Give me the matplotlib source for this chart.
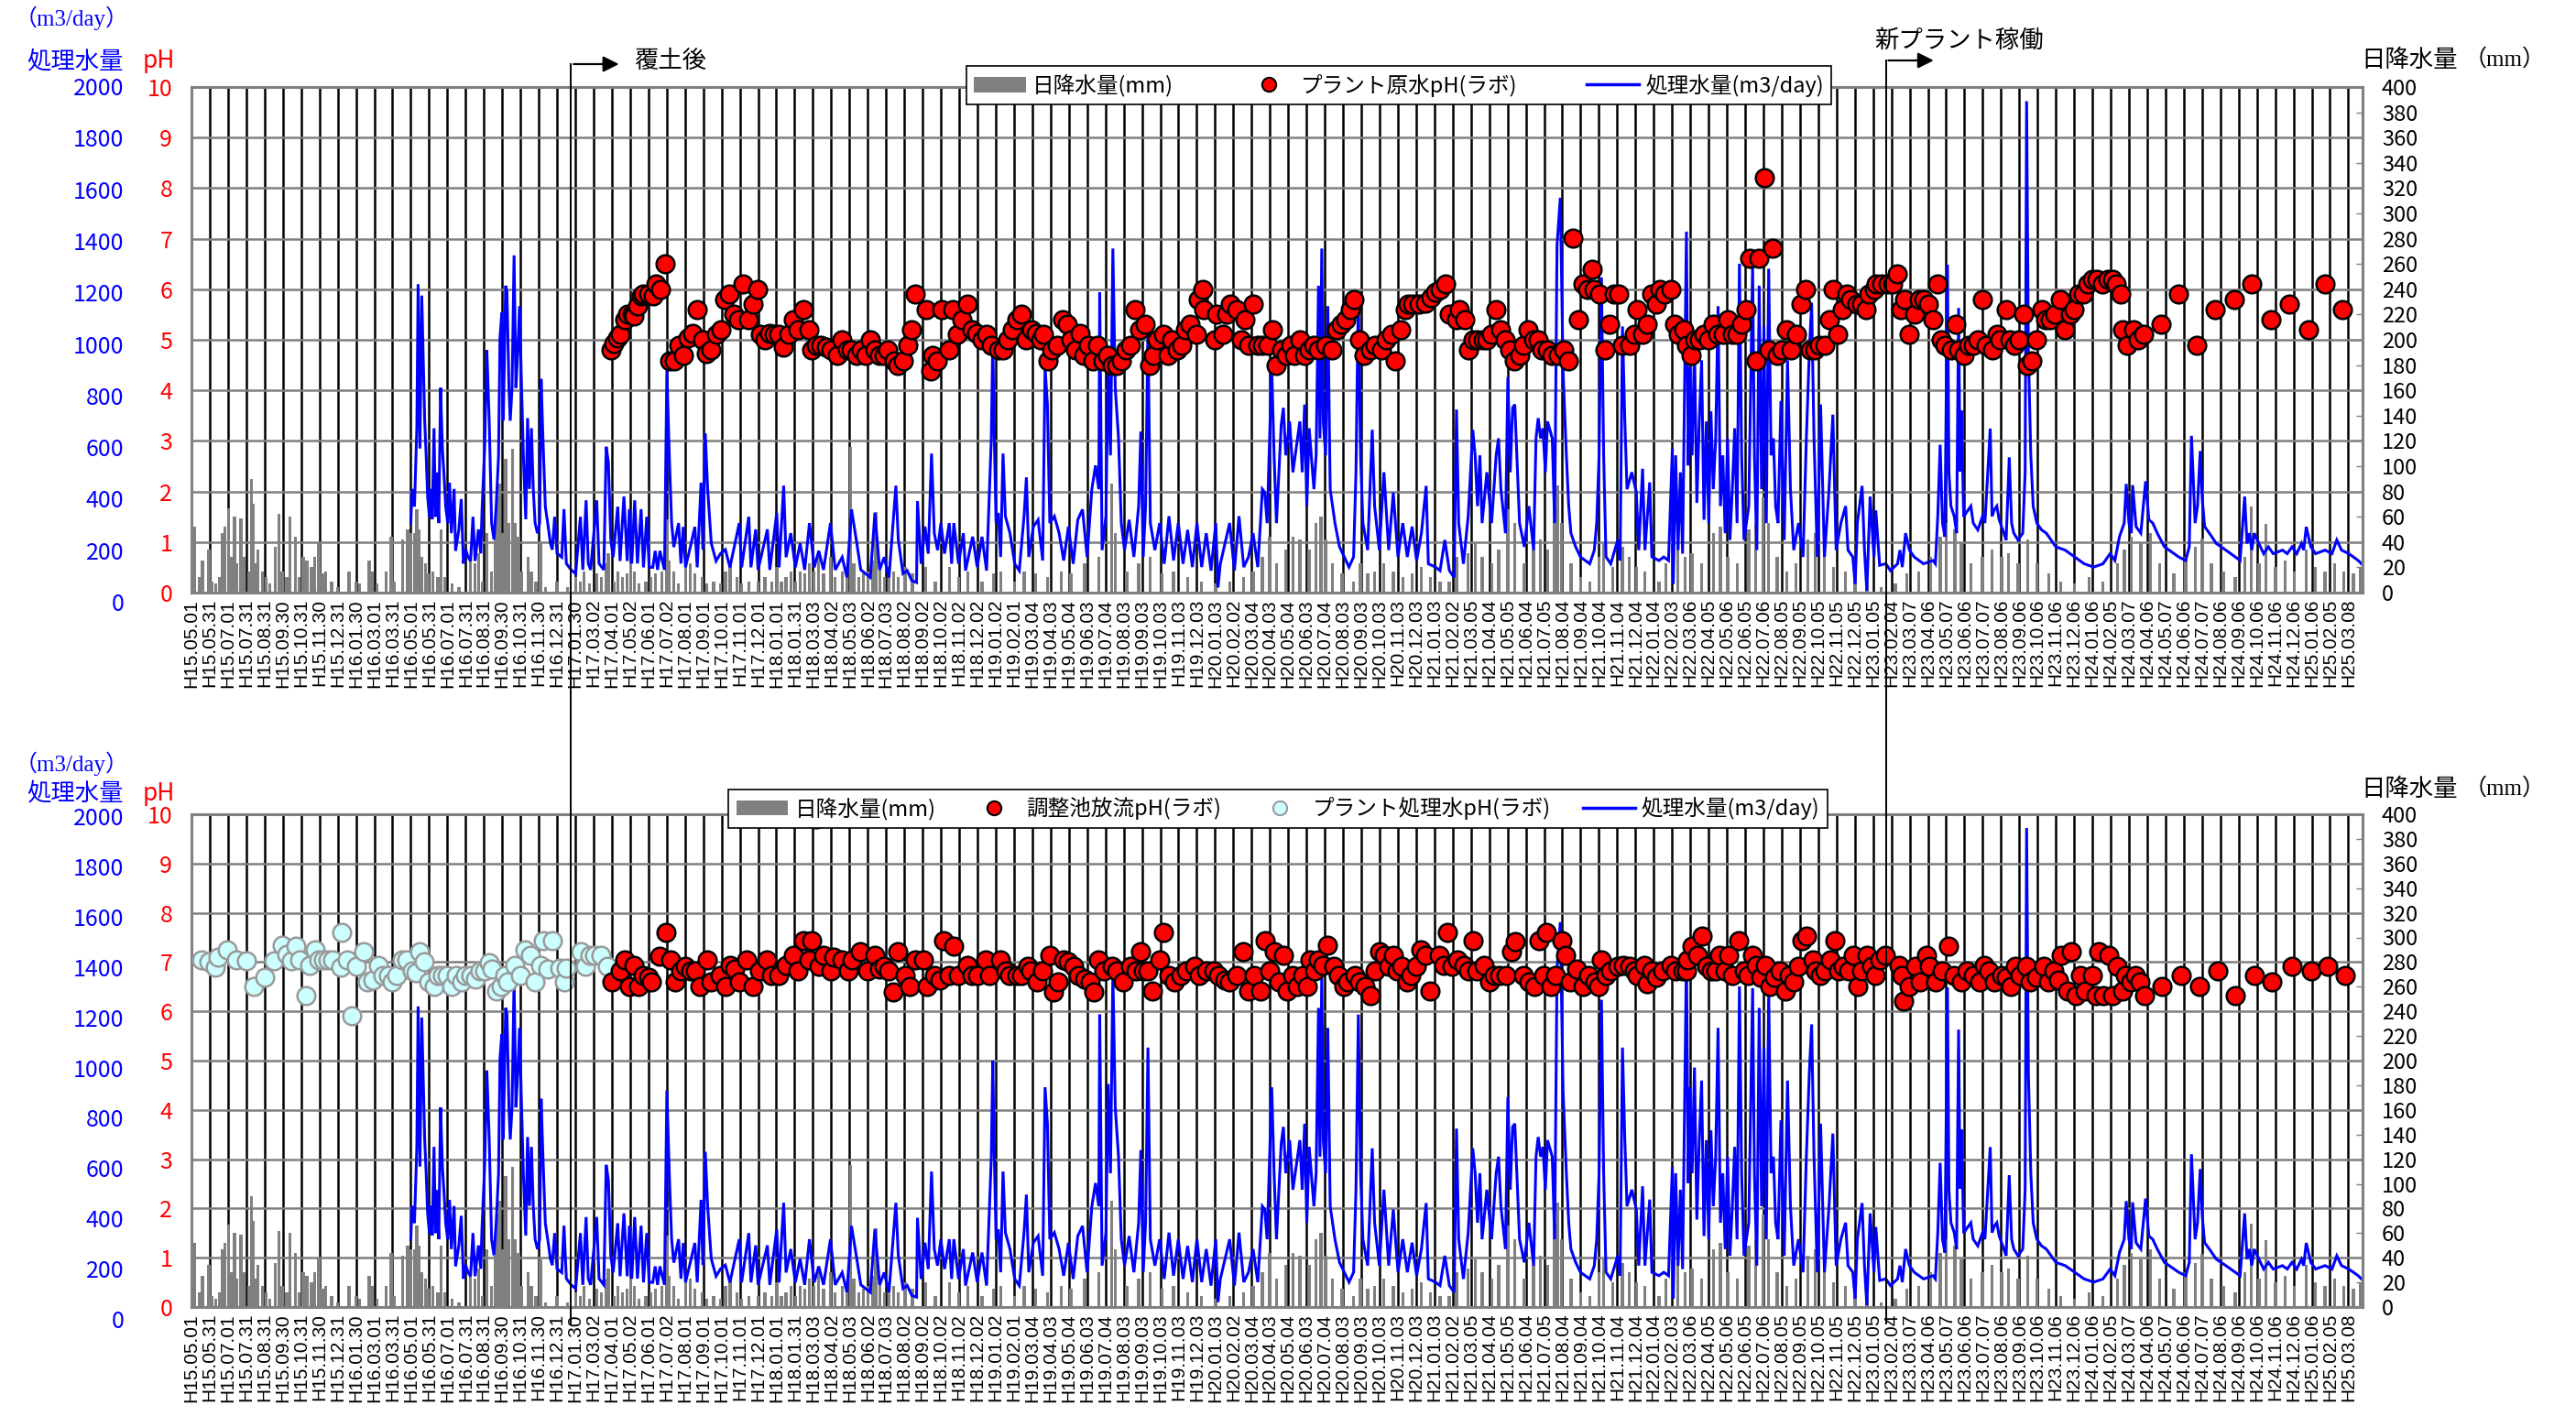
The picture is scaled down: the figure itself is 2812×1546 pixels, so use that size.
import datetime as dt

import matplotlib
matplotlib.use("Agg")
import matplotlib.pyplot as plt
from matplotlib.lines import Line2D
from matplotlib.patches import Patch, FancyArrowPatch

plt.rcParams["font.family"] = ["Noto Sans CJK JP", "DejaVu Sans"]

W, H, DPI = 2812, 1546, 100

# x unit = tick index; one date tick every 30.5 days from H15.05.01
START = dt.date(2003, 5, 1)
N_TICKS = 119
X_END = 118.78


def heisei(k):
    d = START + dt.timedelta(days=int(k * 30.5))
    return f"H{d.year - 1988}.{d.month:02d}.{d.day:02d}"


tick_labels = [heisei(k) for k in range(N_TICKS)]

# events (tick index)
COVER_X = 20.77      # 覆土後
PLANT_X = 92.7       # 新プラント稼働

# daily rain (mm)
rain = [
    (0.18, 52), (0.43, 12), (0.61, 25), (0.95, 34), (1.13, 9), (1.33, 7), (1.53, 12), (1.71, 47),
    (1.84, 52), (2.02, 67), (2.17, 28), (2.35, 60), (2.48, 23), (2.71, 59), (2.86, 28), (3.12, 17),
    (3.27, 90), (3.38, 70), (3.5, 23), (3.63, 34), (3.89, 17), (4.09, 12), (4.27, 7), (4.6, 36),
    (4.78, 62), (4.96, 17), (5.22, 12), (5.4, 60), (5.68, 44), (5.88, 12), (6.11, 28), (6.32, 25),
    (6.57, 20), (6.75, 28), (6.96, 40), (7.16, 15), (7.34, 17), (7.67, 9), (7.98, 4), (8.62, 17),
    (9.0, 9), (9.21, 7), (9.72, 25), (9.9, 17), (10.15, 7), (10.66, 17), (10.92, 44), (11.1, 9),
    (11.56, 42), (11.82, 50), (12.0, 47), (12.2, 47), (12.33, 66), (12.46, 50), (12.58, 28),
    (12.79, 23), (12.97, 15), (13.22, 17), (13.48, 12), (13.66, 50), (13.86, 12), (14.25, 7),
    (14.63, 4), (15.27, 28), (15.52, 23), (15.7, 31), (15.91, 9), (16.16, 47), (16.42, 17),
    (16.62, 42), (16.73, 76), (16.85, 86), (17.0, 47), (17.19, 106), (17.37, 55), (17.57, 114),
    (17.7, 55), (17.9, 44), (18.08, 17), (18.41, 28), (18.59, 17), (18.85, 9), (19.1, 39),
    (19.36, 4), (20.0, 9), (20.56, 4), (21.02, 12), (21.28, 9), (21.48, 17), (21.79, 7),
    (22.17, 15), (22.43, 12), (22.69, 23), (22.81, 31), (23.12, 9), (23.32, 17), (23.58, 12),
    (23.84, 15), (24.04, 23), (24.22, 17), (24.48, 7), (24.86, 9), (25.12, 12), (25.37, 15),
    (25.75, 17), (26.01, 58), (26.14, 25), (26.39, 17), (26.65, 7), (27.03, 20), (27.29, 23),
    (27.54, 15), (27.93, 12), (28.18, 7), (28.57, 9), (28.95, 7), (29.21, 17), (29.46, 23),
    (29.85, 12), (30.1, 7), (30.49, 9), (31.0, 9), (31.38, 12), (31.76, 9), (32.02, 20),
    (32.28, 9), (32.53, 12), (32.79, 17), (33.04, 9), (33.3, 17), (33.55, 15), (33.81, 23),
    (34.07, 17), (34.32, 28), (34.58, 15), (34.96, 28), (35.22, 12), (35.6, 17), (35.86, 20),
    (36.06, 115), (36.24, 23), (36.5, 12), (36.75, 15), (37.01, 17), (37.26, 25), (37.44, 64),
    (37.65, 23), (37.9, 12), (38.16, 20), (38.41, 17), (38.67, 12), (39.05, 20), (39.44, 15),
    (40.18, 20), (40.69, 9), (41.46, 20), (41.97, 12), (42.48, 17), (43.25, 9), (43.89, 15),
    (44.27, 17), (45.04, 9), (45.55, 17), (46.19, 15), (46.83, 12), (47.6, 17), (48.11, 15),
    (48.87, 23), (49.64, 28), (50.33, 86), (50.54, 47), (51.18, 17), (51.82, 23), (52.46, 28),
    (53.1, 15), (53.73, 17), (54.5, 12), (55.27, 9), (56.04, 7), (56.8, 9), (57.57, 12),
    (58.08, 17), (58.59, 28), (58.98, 44), (59.36, 23), (59.87, 34), (60.26, 44), (60.64, 42),
    (61.15, 34), (61.53, 55), (61.79, 60), (62.05, 42), (62.43, 23), (62.94, 15), (63.58, 9),
    (63.96, 23), (64.35, 15), (64.73, 17), (65.24, 23), (65.75, 17), (66.27, 12), (66.78, 15),
    (67.29, 20), (67.8, 12), (68.31, 9), (68.82, 9), (69.21, 28), (69.85, 31), (70.23, 39),
    (70.61, 28), (71.13, 23), (71.51, 34), (72.02, 66), (72.4, 55), (72.92, 23), (73.43, 34),
    (73.81, 42), (74.19, 34), (74.58, 68), (74.76, 85), (74.96, 55), (75.47, 23), (75.99, 12),
    (76.5, 9), (77.01, 28), (77.26, 39), (77.77, 20), (78.29, 36), (78.67, 28), (79.05, 20),
    (79.52, 17), (80.29, 9), (80.68, 23), (81.33, 34), (81.71, 28), (82.1, 31), (82.62, 23),
    (83.26, 47), (83.65, 52), (84.04, 28), (84.56, 23), (85.2, 50), (85.59, 55), (85.98, 75),
    (86.29, 55), (86.75, 28), (87.27, 17), (87.79, 23), (88.43, 42), (88.82, 47), (89.34, 28),
    (89.85, 20), (90.5, 17), (91.02, 12), (91.66, 9), (92.44, 4), (93.21, 7), (93.86, 15),
    (94.5, 17), (95.15, 28), (95.67, 44), (96.0, 55), (96.47, 50), (96.83, 39), (97.35, 23),
    (97.99, 28), (98.51, 34), (99.03, 28), (99.41, 31), (99.93, 23), (100.45, 42), (100.96, 23),
    (101.61, 15), (102.26, 9), (103.03, 7), (103.81, 12), (104.58, 9), (105.36, 23), (105.74, 34),
    (106.13, 44), (106.65, 39), (107.17, 47), (107.68, 23), (108.46, 15), (109.1, 28),
    (109.62, 36), (110.01, 43), (110.52, 23), (111.17, 17), (111.82, 12), (112.33, 28),
    (112.7, 68), (113.11, 23), (113.5, 54), (114.01, 20), (114.53, 25), (115.05, 17),
    (115.69, 34), (116.21, 20), (116.73, 17), (117.24, 23), (117.76, 17), (118.28, 15),
    (118.66, 20),
]

# treated water volume (m3/day), peaks and troughs
flow = [
    (12.0, 275), (12.07, 410), (12.2, 340), (12.33, 650), (12.4, 1220), (12.5, 570), (12.6, 1175),
    (12.69, 890), (12.76, 680), (12.84, 545), (12.92, 380), (13.02, 300), (13.09, 410), (13.17, 290),
    (13.27, 650), (13.35, 300), (13.43, 475), (13.53, 275), (13.63, 810), (13.73, 570), (13.81, 475),
    (13.91, 340), (14.02, 275), (14.12, 435), (14.22, 235), (14.37, 410), (14.45, 165), (14.63, 250),
    (14.76, 370), (14.88, 115), (15.0, 170), (15.14, 140), (15.27, 125), (15.4, 300), (15.52, 125),
    (15.7, 250), (15.83, 155), (15.9, 330), (16.04, 570), (16.16, 960), (16.29, 680), (16.42, 275),
    (16.55, 210), (16.67, 340), (16.8, 540), (16.88, 1010), (16.98, 1107), (17.06, 680),
    (17.19, 1214), (17.26, 1190), (17.37, 810), (17.44, 680), (17.54, 810), (17.65, 1334),
    (17.75, 810), (17.85, 945), (17.95, 1133), (18.06, 810), (18.16, 540), (18.29, 290),
    (18.39, 690), (18.49, 410), (18.6, 650), (18.7, 410), (18.8, 275), (18.93, 235), (19.05, 275),
    (19.13, 845), (19.23, 610), (19.36, 340), (19.49, 275), (19.64, 195), (19.74, 170), (19.87, 300),
    (20.0, 155), (20.26, 140), (20.38, 330), (20.51, 115), (20.77, 90), (21.02, 75), (21.28, 300),
    (21.41, 90), (21.59, 365), (21.71, 115), (21.84, 90), (22.17, 365), (22.3, 115), (22.56, 90),
    (22.69, 577), (22.81, 515), (22.94, 210), (23.07, 140), (23.32, 340), (23.45, 125), (23.66, 380),
    (23.84, 125), (23.96, 330), (24.09, 115), (24.25, 365), (24.4, 115), (24.6, 330), (24.73, 100),
    (24.91, 300), (25.04, 100), (25.24, 100), (25.37, 165), (25.5, 90), (25.63, 165), (25.88, 90),
    (26.01, 879), (26.14, 545), (26.27, 275), (26.39, 180), (26.65, 275), (26.78, 115), (26.91, 260),
    (27.03, 100), (27.29, 180), (27.54, 260), (27.67, 100), (27.88, 435), (27.98, 170), (28.11, 630),
    (28.24, 410), (28.44, 195), (28.7, 125), (28.95, 155), (29.21, 170), (29.46, 100), (29.97, 275),
    (30.1, 100), (30.49, 300), (30.61, 100), (30.87, 250), (31.0, 90), (31.51, 250), (31.64, 90),
    (32.02, 315), (32.15, 100), (32.4, 423), (32.53, 140), (32.79, 235), (33.04, 100), (33.3, 195),
    (33.55, 90), (33.81, 275), (34.07, 100), (34.32, 165), (34.58, 90), (34.96, 275), (35.22, 90),
    (35.6, 140), (35.86, 60), (36.11, 329), (36.37, 210), (36.62, 90), (37.14, 60), (37.39, 315),
    (37.65, 90), (37.9, 140), (38.16, 60), (38.54, 423), (38.67, 210), (38.93, 75),
    (39.16, 87), (39.41, 47), (39.67, 40), (39.72, 362), (39.92, 114), (40.13, 261), (40.31, 154),
    (40.49, 550), (40.64, 235), (40.82, 168), (41.0, 275), (41.2, 154), (41.46, 275), (41.59, 114),
    (41.71, 275), (41.97, 114), (42.23, 235), (42.35, 87), (42.74, 221), (42.99, 101), (43.25, 221),
    (43.5, 87), (43.76, 610), (43.84, 1000), (43.91, 664), (44.02, 275), (44.14, 315), (44.27, 141),
    (44.4, 550), (44.53, 302), (44.78, 235), (45.04, 114), (45.29, 87), (45.55, 302), (45.68, 456),
    (45.81, 141), (46.06, 261), (46.32, 288), (46.57, 127), (46.7, 892), (46.83, 744), (46.96, 275),
    (47.21, 302), (47.47, 235), (47.72, 127), (47.98, 261), (48.24, 114), (48.49, 288), (48.75, 329),
    (49.0, 141), (49.26, 409), (49.46, 503), (49.64, 409), (49.69, 1187), (49.82, 168), (50.03, 302),
    (50.15, 905), (50.28, 543), (50.41, 1361), (50.54, 811), (50.72, 610), (50.87, 275), (51.05, 168),
    (51.3, 288), (51.56, 141), (51.82, 342), (51.94, 637), (52.07, 141), (52.2, 342), (52.33, 1053),
    (52.46, 275), (52.71, 168), (52.97, 275), (53.22, 114), (53.48, 302), (53.73, 127), (53.99, 275),
    (54.25, 114), (54.5, 248), (54.76, 101), (55.01, 275), (55.27, 101), (55.52, 235), (55.78, 87),
    (56.04, 275), (56.16, 20), (56.29, 114), (56.8, 275), (57.06, 87), (57.31, 302), (57.57, 101),
    (57.83, 141), (58.08, 235), (58.34, 101), (58.59, 409), (58.72, 396), (58.85, 275), (59.1, 892),
    (59.23, 543), (59.36, 275), (59.62, 664), (59.74, 731), (59.87, 543), (60.08, 677), (60.26, 476),
    (60.51, 610), (60.64, 677), (60.77, 476), (60.9, 744), (61.02, 342), (61.15, 650), (61.41, 409),
    (61.53, 543), (61.66, 1214), (61.74, 610), (61.84, 1361), (61.92, 677), (62.05, 543),
    (62.17, 1133), (62.3, 409), (62.56, 275), (62.81, 181), (63.07, 141), (63.33, 101), (63.58, 141),
    (63.71, 476), (63.84, 1187), (63.96, 543), (64.09, 275), (64.35, 168), (64.6, 644), (64.73, 342),
    (64.99, 168), (65.24, 476), (65.5, 168), (65.75, 396), (66.01, 141), (66.27, 275), (66.52, 141),
    (66.78, 261), (67.03, 127), (67.29, 235), (67.55, 422), (67.67, 114), (68.06, 101), (68.31, 87),
    (68.57, 208), (68.82, 87), (69.08, 60), (69.21, 724), (69.33, 275), (69.59, 114), (69.85, 302),
    (70.1, 644), (70.23, 543), (70.36, 342), (70.49, 543), (70.61, 275), (70.87, 476), (71.13, 275),
    (71.38, 543), (71.51, 610), (71.64, 409), (71.89, 235), (72.02, 852), (72.15, 476), (72.28, 731),
    (72.4, 744), (72.66, 275), (72.92, 181), (73.17, 342), (73.43, 168), (73.56, 610), (73.68, 690),
    (73.81, 610), (73.94, 650), (74.07, 476), (74.19, 677), (74.45, 610), (74.58, 275),
    (74.71, 1375), (74.89, 1562), (75.04, 878), (75.22, 543), (75.35, 342), (75.47, 235),
    (75.73, 181), (75.99, 141), (76.5, 114), (76.75, 168), (76.88, 275), (77.01, 543),
    (77.14, 1247), (77.26, 543), (77.39, 141), (77.65, 114), (78.03, 208), (78.16, 127),
    (78.29, 1053), (78.42, 677), (78.54, 409), (78.8, 476), (79.05, 396),
    (79.18, 168), (79.39, 490), (79.52, 168), (79.78, 436), (79.9, 141), (80.29, 127), (80.55, 141),
    (80.81, 127), (81.02, 570), (81.07, 34), (81.2, 543), (81.33, 168), (81.46, 476), (81.58, 154),
    (81.79, 1428), (81.89, 503), (81.97, 892), (82.1, 543), (82.23, 972), (82.36, 355), (82.49, 677),
    (82.62, 919), (82.75, 288), (82.88, 677), (83.01, 275), (83.13, 717), (83.26, 409), (83.39, 610),
    (83.52, 1133), (83.65, 342), (83.78, 543), (83.91, 235), (84.04, 610), (84.17, 208), (84.3, 409),
    (84.43, 650), (84.56, 275), (84.69, 1301), (84.81, 543), (84.94, 208), (85.2, 342),
    (85.41, 1294), (85.51, 543), (85.64, 168), (85.77, 1214), (85.9, 409), (86.03, 1053),
    (86.16, 275), (86.29, 1281), (86.42, 543), (86.55, 610), (86.67, 342), (86.8, 275), (86.96, 758),
    (87.14, 208), (87.32, 919), (87.48, 409), (87.66, 168), (87.92, 275), (88.17, 141), (88.35, 610),
    (88.51, 945), (88.64, 1147), (88.77, 610), (88.95, 141), (89.13, 744), (89.34, 141), (89.59, 409),
    (89.8, 704), (89.98, 168), (90.24, 275), (90.5, 342), (90.63, 168), (90.89, 141), (91.02, 34),
    (91.14, 275), (91.4, 422), (91.53, 168), (91.66, 7), (91.84, 380), (92.05, 141), (92.15, 325),
    (92.36, 108), (92.7, 114), (92.95, 87), (93.34, 114), (93.47, 168), (93.6, 101), (93.78, 235),
    (93.99, 168), (94.25, 141), (94.76, 114), (95.28, 127), (95.41, 114), (95.54, 302), (95.67, 585),
    (95.8, 275), (95.93, 221), (96.07, 1297), (96.15, 476), (96.26, 342), (96.44, 302), (96.57, 235),
    (96.68, 1126), (96.76, 480), (96.83, 720), (96.96, 300), (97.09, 315), (97.35, 342), (97.48, 275),
    (97.73, 248), (97.99, 302), (98.12, 275), (98.41, 649), (98.51, 302), (98.64, 329), (98.77, 342),
    (98.9, 288), (99.16, 235), (99.28, 208), (99.45, 535), (99.58, 275), (99.7, 235), (99.93, 208),
    (100.19, 235), (100.32, 476), (100.4, 1944), (100.5, 945), (100.63, 543), (100.76, 342),
    (100.96, 275), (101.22, 248), (101.48, 235), (101.74, 208), (102.0, 181), (102.51, 168),
    (103.03, 141), (103.55, 114), (104.07, 101), (104.58, 114), (104.97, 154), (105.23, 127),
    (105.48, 221), (105.74, 275), (105.85, 430), (106.0, 275), (106.13, 235), (106.2, 425),
    (106.39, 261), (106.65, 235), (106.91, 440), (107.09, 288), (107.3, 275), (107.55, 235),
    (107.94, 181), (108.2, 168), (108.72, 141), (109.1, 127), (109.3, 181), (109.42, 620),
    (109.62, 275), (109.75, 342), (109.9, 560), (110.01, 369), (110.14, 261), (110.4, 235),
    (110.78, 194), (111.3, 168), (111.82, 141), (112.08, 127), (112.33, 380), (112.46, 194),
    (112.59, 235), (112.72, 168), (112.85, 235), (113.11, 194), (113.37, 154), (113.63, 181),
    (113.89, 154), (114.4, 168), (114.66, 154), (114.92, 181), (115.18, 154), (115.44, 194),
    (115.56, 168), (115.7, 260), (115.95, 181), (116.21, 154), (116.73, 168), (117.11, 154),
    (117.37, 208), (117.63, 168), (118.02, 154), (118.28, 141), (118.54, 127), (118.72, 114),
]

# プラント原水pH(ラボ)
ph_raw = [
    (22.94, 4.8), (23.12, 4.93), (23.32, 5.03), (23.45, 5.1), (23.71, 5.4), (23.84, 5.5), (24.09, 5.5),
    (24.22, 5.47), (24.4, 5.67), (24.6, 5.87), (24.73, 5.9), (24.99, 5.9), (25.24, 5.87), (25.42, 6.1),
    (25.68, 6.0), (25.93, 6.51), (26.14, 4.59), (26.39, 4.59), (26.65, 4.9), (26.9, 4.69), (27.16, 5.03),
    (27.42, 5.13), (27.67, 5.6), (27.98, 5.0), (28.18, 4.73), (28.44, 4.8), (28.7, 5.1), (28.95, 5.2),
    (29.16, 5.8), (29.41, 5.9), (29.67, 5.5), (29.92, 5.4), (30.15, 6.1), (30.49, 5.4), (30.74, 5.7),
    (30.95, 6.0), (31.13, 5.1), (31.38, 5.0), (31.64, 5.13), (31.89, 5.1), (32.15, 5.1), (32.4, 4.86),
    (32.66, 5.1), (32.92, 5.4), (33.17, 5.2), (33.5, 5.6), (33.76, 5.2), (33.94, 4.8), (34.19, 4.9),
    (34.45, 4.9), (34.71, 4.86), (34.96, 4.8), (35.35, 4.69), (35.6, 5.0), (35.86, 4.8), (36.11, 4.8),
    (36.37, 4.69), (36.62, 4.8), (36.88, 4.69), (37.14, 5.0), (37.39, 4.8), (37.65, 4.69), (37.9, 4.69),
    (38.11, 4.8), (38.42, 4.59), (38.62, 4.49), (38.93, 4.59), (39.18, 4.9), (39.4, 5.2), (39.6, 5.9),
    (40.18, 5.6), (40.43, 4.39), (40.56, 4.69), (40.82, 4.59), (41.07, 5.6), (41.46, 4.8), (41.66, 5.6),
    (41.92, 5.1), (42.17, 5.4), (42.43, 5.7), (42.69, 5.2), (42.94, 5.13), (43.25, 5.0), (43.5, 5.1),
    (43.76, 4.9), (44.14, 4.8), (44.4, 4.8), (44.65, 5.0), (44.91, 5.2), (45.17, 5.4), (45.42, 5.5),
    (45.68, 5.0), (45.94, 5.2), (46.19, 5.13), (46.45, 5.0), (46.62, 5.1), (46.88, 4.59), (47.08, 4.8),
    (47.34, 4.9), (47.65, 5.4), (47.9, 5.3), (48.1, 5.0), (48.36, 4.8), (48.62, 5.13), (48.82, 4.69),
    (49.08, 4.9), (49.34, 4.59), (49.59, 4.9), (49.85, 4.59), (50.1, 4.69), (50.36, 4.49), (50.61, 4.49),
    (50.87, 4.59), (51.13, 4.8), (51.38, 4.9), (51.64, 5.6), (51.89, 5.2), (52.15, 5.3), (52.4, 4.49),
    (52.61, 4.69), (52.84, 5.0), (53.17, 5.1), (53.43, 4.69), (53.63, 5.0), (53.94, 4.8), (54.19, 4.9),
    (54.4, 5.2), (54.63, 5.3), (54.96, 5.1), (55.06, 5.8), (55.32, 6.0), (55.4, 5.6), (55.98, 5.0),
    (56.09, 5.5), (56.42, 5.1), (56.65, 5.5), (56.85, 5.7), (57.19, 5.6), (57.44, 5.0), (57.62, 5.4),
    (57.83, 4.9), (58.08, 5.7), (58.34, 4.9), (58.59, 4.9), (58.9, 4.9), (59.16, 5.2), (59.36, 4.49),
    (59.62, 4.8), (59.87, 4.69), (60.13, 4.9), (60.33, 4.69), (60.64, 5.0), (60.9, 4.69), (61.15, 4.8),
    (61.41, 4.9), (61.66, 4.8), (62.05, 4.9), (62.38, 4.8), (62.63, 5.2), (62.89, 5.3), (63.15, 5.4),
    (63.4, 5.6), (63.58, 5.8), (63.91, 5.0), (64.17, 4.69), (64.48, 4.8), (64.73, 4.9), (65.12, 4.8),
    (65.37, 5.0), (65.63, 5.1), (65.88, 4.59), (66.14, 5.2), (66.4, 5.6), (66.57, 5.7), (66.83, 5.7),
    (67.16, 5.7), (67.49, 5.73), (67.8, 5.83), (68.06, 5.94), (68.31, 6.0), (68.62, 6.1), (68.82, 5.5),
    (69.2, 5.4), (69.38, 5.6), (69.64, 5.4), (69.85, 4.8), (70.1, 5.0), (70.36, 5.0), (70.67, 5.0),
    (70.87, 5.0), (71.13, 5.1), (71.38, 5.6), (71.64, 5.2), (71.89, 5.0), (72.1, 4.8), (72.35, 4.59),
    (72.66, 4.69), (72.86, 4.9), (73.12, 5.2), (73.43, 5.0), (73.68, 5.0), (73.89, 4.8), (74.19, 4.8),
    (74.45, 4.69), (74.76, 4.69), (75.09, 4.8), (75.35, 4.59), (75.6, 7.01), (75.86, 5.4), (76.11, 6.1),
    (76.37, 6.0), (76.62, 6.4), (76.75, 6.0), (77.01, 5.9), (77.32, 4.8), (77.57, 5.3), (77.83, 5.9),
    (78.08, 5.9), (78.29, 4.9), (78.67, 4.9), (78.93, 5.1), (79.1, 5.6),
    (79.39, 5.1), (79.65, 5.3), (79.9, 5.9), (80.16, 5.7), (80.34, 6.0), (80.6, 5.9), (80.94, 6.0),
    (81.12, 5.3), (81.33, 5.1), (81.64, 5.2), (81.79, 4.9), (82.02, 4.69), (82.23, 5.0), (82.49, 5.0),
    (82.75, 5.1), (83.01, 5.0), (83.26, 5.3), (83.52, 5.1), (83.78, 5.1), (84.04, 5.4), (84.3, 5.1),
    (84.56, 5.1), (84.81, 5.3), (85.07, 5.6), (85.25, 6.61), (85.59, 4.59), (85.77, 6.61), (86.03, 8.2),
    (86.29, 4.8), (86.49, 6.81), (86.75, 4.69), (87.01, 4.8), (87.27, 5.2), (87.53, 4.8), (87.79, 5.1),
    (88.04, 5.7), (88.3, 6.0), (88.56, 4.8), (88.82, 4.8), (89.08, 4.9), (89.34, 4.9), (89.59, 5.4),
    (89.8, 6.0), (90.06, 5.1), (90.32, 5.6), (90.58, 5.9), (90.76, 5.8), (91.09, 5.7), (91.35, 5.7),
    (91.61, 5.6), (91.79, 5.9), (92.05, 6.0), (92.18, 6.1), (92.49, 6.1), (92.82, 6.1), (93.08, 6.1),
    (93.34, 6.3), (93.52, 5.6), (93.73, 5.8), (93.99, 5.1), (94.25, 5.5), (94.5, 5.8), (94.76, 5.8),
    (95.02, 5.7), (95.28, 5.4), (95.54, 6.1), (95.74, 5.0), (95.93, 4.9), (96.26, 4.8), (96.52, 5.3),
    (96.7, 4.8), (96.96, 4.69), (97.22, 4.9), (97.48, 4.9), (97.73, 5.0), (97.99, 5.8), (98.17, 4.9),
    (98.51, 4.8), (98.77, 5.1), (98.95, 5.0), (99.28, 5.6), (99.47, 5.0), (99.72, 4.9), (99.98, 5.0),
    (100.24, 5.5), (100.45, 4.49), (100.71, 4.59), (100.96, 5.0), (101.22, 5.6), (101.43, 5.4),
    (101.69, 5.4), (101.95, 5.5), (102.26, 5.8), (102.51, 5.2), (102.77, 5.5), (102.98, 5.6),
    (103.24, 5.9), (103.5, 5.9), (103.75, 6.1), (104.01, 6.2), (104.27, 6.2), (104.53, 6.1),
    (104.84, 6.2), (105.1, 6.2), (105.3, 6.1), (105.56, 5.9), (105.67, 5.2), (105.92, 4.9),
    (106.26, 5.2), (106.52, 5.0), (106.78, 5.1), (107.73, 5.3), (108.72, 5.9), (109.7, 4.9),
    (110.73, 5.6), (111.77, 5.8), (112.72, 6.1), (113.75, 5.4), (114.79, 5.7), (115.82, 5.2),
    (116.73, 6.1), (117.68, 5.6),
]

# 調整池放流pH(ラボ)
ph_pond = [
    (23.02, 6.6), (23.45, 6.82), (23.71, 7.04), (23.96, 6.51), (24.22, 6.94), (24.48, 6.51), (24.73, 6.73),
    (24.99, 6.7), (25.17, 6.6), (25.63, 7.11), (25.96, 7.61), (26.19, 7.04), (26.45, 6.6), (26.78, 6.82),
    (27.03, 6.91), (27.29, 6.82), (27.54, 6.82), (27.8, 6.51), (28.24, 7.04), (28.44, 6.6), (28.9, 6.73),
    (29.21, 6.51), (29.46, 6.94), (29.72, 6.85), (29.97, 6.6), (30.36, 7.04), (30.74, 6.51), (31.05, 6.82),
    (31.46, 7.04), (31.71, 6.73), (32.15, 6.73), (32.53, 6.94), (32.92, 7.13), (33.17, 6.82), (33.5, 7.44),
    (33.76, 7.04), (33.94, 7.44), (34.2, 9.9), (34.32, 6.91), (34.58, 7.13), (34.96, 6.82), (35.14, 7.1),
    (35.6, 7.04), (35.91, 6.82), (36.16, 7.04), (36.57, 7.22), (37.0, 6.82), (37.39, 7.13), (37.65, 6.85),
    (37.9, 6.91), (38.16, 6.82), (38.41, 6.39), (38.62, 7.22), (39.05, 6.73), (39.31, 6.51), (39.57, 7.04),
    (40.05, 7.04), (40.23, 6.51), (40.64, 6.73), (40.95, 6.63), (41.15, 7.44), (41.46, 6.73), (41.71, 7.32),
    (41.97, 6.73), (42.43, 6.94), (42.69, 6.73), (43.0, 6.73), (43.45, 7.04), (43.63, 6.73), (44.27, 7.04),
    (44.53, 6.82), (44.78, 6.73), (45.17, 6.73), (45.42, 6.73), (45.75, 6.91), (45.93, 6.82), (46.27, 6.6),
    (46.57, 6.82), (46.96, 7.13), (47.14, 6.39), (47.39, 6.6), (47.72, 7.04), (47.98, 7.0), (48.24, 6.91),
    (48.49, 6.73), (48.87, 6.66), (49.18, 6.6), (49.39, 6.39), (49.64, 7.04), (49.9, 6.82), (50.36, 6.91),
    (50.61, 6.82), (50.97, 6.6), (51.38, 6.91), (51.69, 6.82), (51.94, 7.22), (52.07, 6.82), (52.33, 6.82),
    (52.58, 6.42), (52.97, 7.04), (53.17, 7.61), (53.48, 6.73), (53.79, 6.6), (54.12, 6.73), (54.45, 6.82),
    (54.89, 6.91), (55.14, 6.73), (55.52, 6.82), (55.91, 6.82), (56.16, 6.73), (56.55, 6.63), (56.8, 6.6),
    (57.19, 6.73), (57.52, 7.22), (57.83, 6.42), (58.14, 6.73), (58.47, 6.42), (58.72, 7.44), (58.98, 6.82),
    (59.23, 7.22), (59.49, 6.6), (59.74, 7.13), (59.92, 6.42), (60.26, 6.73), (60.51, 6.51), (60.77, 6.73),
    (61.02, 6.51), (61.2, 7.04), (61.46, 6.82), (61.66, 7.04), (61.92, 6.94), (62.17, 7.35), (62.48, 6.91),
    (62.74, 6.73), (63.07, 6.51), (63.25, 6.6), (63.66, 6.73), (63.91, 6.6), (64.22, 6.51), (64.48, 6.32),
    (64.73, 6.82), (64.99, 7.22), (65.24, 7.13), (65.5, 6.91), (65.76, 7.13), (65.96, 6.82), (66.21, 6.91),
    (66.52, 6.6), (66.73, 6.73), (67.03, 6.91), (67.24, 7.24), (67.49, 7.13), (67.75, 6.42), (68.26, 7.13),
    (68.52, 6.94), (68.72, 7.61), (68.95, 6.91), (69.28, 7.04), (69.59, 6.94), (69.85, 6.82), (70.1, 7.44),
    (70.3, 6.82), (70.74, 6.94), (71.0, 6.6), (71.25, 6.73), (71.59, 6.73), (71.94, 6.73), (72.2, 7.22),
    (72.4, 7.41), (72.86, 6.73), (73.17, 6.6), (73.48, 6.51), (73.73, 7.44), (73.99, 6.73), (74.14, 7.61),
    (74.4, 6.51), (74.65, 6.73), (74.96, 7.44), (75.16, 7.13), (75.42, 6.6), (75.78, 6.85), (76.11, 6.51),
    (76.45, 6.73), (76.76, 6.6), (76.96, 6.51), (77.14, 7.04), (77.4, 6.73), (77.65, 6.82), (78.04, 6.91),
    (78.35, 6.94), (78.68, 6.91), (78.93, 6.82), (79.11, 6.73),
    (79.47, 6.94), (79.65, 6.57), (79.9, 6.82), (80.16, 6.7), (80.5, 6.82), (80.94, 6.94), (81.2, 6.82),
    (81.58, 6.82), (81.79, 6.82), (81.84, 7.04), (82.1, 7.32), (82.41, 7.13), (82.62, 7.53), (82.88, 6.91),
    (83.14, 6.82), (83.39, 6.82), (83.6, 7.13), (83.91, 6.82), (84.12, 7.13), (84.3, 6.73), (84.63, 7.44),
    (84.94, 6.82), (85.14, 6.73), (85.41, 7.13), (85.59, 6.94), (85.85, 6.7), (86.11, 6.94), (86.37, 6.51),
    (86.62, 6.7), (86.88, 6.82), (87.22, 6.42), (87.4, 6.73), (87.66, 6.6), (87.91, 6.91), (88.1, 7.44),
    (88.36, 7.53), (88.69, 7.04), (88.87, 6.82), (89.13, 6.73), (89.34, 6.82), (89.65, 7.04), (89.91, 7.44),
    (90.11, 6.82), (90.37, 6.91), (90.68, 6.82), (90.89, 7.13), (91.14, 6.51), (91.35, 6.82), (91.66, 7.13),
    (91.92, 6.91), (92.13, 6.73), (92.38, 7.04), (92.69, 7.13), (93.41, 6.94), (93.55, 6.73), (93.68, 6.2),
    (93.99, 6.51), (94.3, 6.91), (94.56, 6.6), (94.9, 7.13), (95.08, 6.91), (95.41, 6.6), (95.8, 6.82),
    (96.11, 7.32), (96.45, 6.73), (96.83, 6.6), (97.14, 6.82), (97.48, 6.73), (97.81, 6.6), (98.07, 6.94),
    (98.33, 6.82), (98.64, 6.6), (99.03, 6.73), (99.28, 6.7), (99.54, 6.51), (99.8, 6.91), (100.06, 6.73),
    (100.4, 6.91), (100.58, 6.6), (100.96, 6.7), (101.35, 6.91), (101.61, 6.6), (101.87, 6.82),
    (102.13, 6.63), (102.31, 7.13), (102.64, 6.42), (102.82, 7.22), (103.07, 6.32), (103.33, 6.73),
    (103.59, 6.42), (104.01, 6.73), (104.19, 6.32), (104.37, 7.22), (104.58, 6.32), (104.89, 7.13),
    (105.1, 6.32), (105.36, 6.91), (105.67, 6.42), (105.82, 6.73), (106.08, 6.6), (106.34, 6.73),
    (106.6, 6.6), (106.85, 6.32), (107.81, 6.51), (108.84, 6.73), (109.88, 6.51), (110.84, 6.82),
    (111.82, 6.32), (112.85, 6.73), (113.83, 6.6), (114.92, 6.91), (115.95, 6.82), (116.86, 6.91),
    (117.81, 6.73),
]

# プラント処理水pH(ラボ)
ph_plant = [
    (0.56, 7.04), (0.95, 7.0), (1.28, 6.9), (1.46, 7.1), (1.97, 7.24), (2.48, 7.04), (3.0, 7.02),
    (3.43, 6.51), (4.0, 6.7), (4.53, 7.02), (4.96, 7.34), (5.22, 7.16), (5.47, 7.02), (5.73, 7.32),
    (5.93, 7.04), (6.24, 6.32), (6.45, 6.94), (6.78, 7.25), (6.96, 7.04), (7.21, 7.04), (7.47, 7.04),
    (7.72, 7.04), (8.18, 6.9), (8.24, 7.61), (8.54, 7.05), (8.75, 5.92), (9.0, 6.91), (9.44, 7.22),
    (9.64, 6.6), (9.9, 6.63), (10.23, 6.94), (10.49, 6.73), (10.79, 6.73), (11.0, 6.6), (11.25, 6.73),
    (11.51, 7.04), (11.76, 7.04), (12.07, 6.82), (12.28, 6.79), (12.46, 7.22), (12.71, 7.0), (12.97, 6.6),
    (13.3, 6.51), (13.48, 6.73), (13.73, 6.73), (13.99, 6.73), (14.25, 6.51), (14.5, 6.73), (14.76, 6.6),
    (15.01, 6.73), (15.27, 6.73), (15.52, 6.66), (15.78, 6.82), (16.04, 6.82), (16.29, 6.98), (16.42, 6.85),
    (16.67, 6.42), (16.93, 6.51), (17.14, 6.73), (17.31, 6.6), (17.7, 6.94), (18.0, 6.73), (18.26, 7.24),
    (18.52, 7.13), (18.77, 6.6), (19.1, 6.94), (19.23, 7.44), (19.49, 6.85), (19.74, 7.44), (20.13, 6.88),
    (20.38, 6.6), (20.51, 6.88), (21.28, 7.22), (21.54, 6.91), (21.79, 7.13), (22.05, 7.13), (22.38, 7.13),
    (22.76, 6.91),
]

RAIN_C, FLOW_C, RED, CYAN = "#808080", "#0000FF", "#FF0000", "#CCFFFF"
FRAME_C = "#808080"
LEFT_PX, RIGHT_PX = 209, 2579

fig = plt.figure(figsize=(W / DPI, H / DPI), dpi=DPI)


def fx(p):
    return p / W


def fy(p):
    return 1 - p / H


def unzip(pairs):
    return [p[0] for p in pairs], [p[1] for p in pairs]


def build_panel(top, bottom, blue_top, blue_bottom, scatter_sets):
    ax = fig.add_axes([fx(LEFT_PX), fy(bottom), (RIGHT_PX - LEFT_PX) / W, (bottom - top) / H])
    ax.set_xlim(0, X_END)
    ax.set_ylim(0, 10)
    ax.set_xticks(range(N_TICKS))
    ax.set_xticklabels(tick_labels, rotation=90, fontsize=15, family="Liberation Sans")
    ax.set_yticks(range(11))
    ax.tick_params(axis="x", length=0, pad=5)
    ax.tick_params(axis="y", length=0, pad=15, labelsize=18, labelcolor=RED)
    ax.grid(axis="x", color="black", lw=1.8)
    ax.grid(axis="y", color=FRAME_C, lw=1.8)
    ax.set_axisbelow(True)
    for s in ax.spines.values():
        s.set_visible(False)

    # rain on the right axis
    ax_r = ax.twinx()
    rx, ry = unzip(rain)
    ax_r.bar(rx, ry, width=0.17, color=RAIN_C, linewidth=0)
    ax_r.set_ylim(0, 400)
    ax_r.set_yticks(range(0, 401, 20))
    ax_r.tick_params(axis="y", direction="in", length=5, width=1, color=FRAME_C,
                     pad=15, labelsize=17)
    for s in ax_r.spines.values():
        s.set_visible(False)

    # treated volume
    ax_f = ax.twinx()
    qx, qy = unzip(flow)
    ax_f.plot(qx, qy, color=FLOW_C, lw=2.2, solid_joinstyle="miter")
    ax_f.set_ylim(0, 2000)
    ax_f.set_yticks([])
    for s in ax_f.spines.values():
        s.set_visible(False)

    # pH points on top, this one carries the frame
    ax_p = ax.twinx()
    ax_p.set_ylim(0, 10)
    ax_p.set_yticks([])
    for pairs, face, edge in scatter_sets:
        px_, py_ = unzip(pairs)
        ax_p.scatter(px_, py_, s=200, c=face, edgecolors=edge, linewidths=1.8, zorder=3)
    for s in ax_p.spines.values():
        s.set_color(FRAME_C)
        s.set_linewidth(2.2)

    # blue volume scale (slightly offset, as in the original)
    ax_b = fig.add_axes([fx(LEFT_PX), fy(blue_bottom), 0.001, (blue_bottom - blue_top) / H])
    ax_b.set_ylim(0, 2000)
    ax_b.set_yticks(range(0, 2001, 200))
    ax_b.set_xticks([])
    ax_b.tick_params(axis="y", length=0, pad=53, labelsize=18, labelcolor=FLOW_C)
    ax_b.set_frame_on(False)
    ax_b.patch.set_visible(False)
    return ax


ax_top = build_panel(95, 647, 94, 657, [(ph_raw, RED, "black")])
ax_bot = build_panel(889, 1427, 891, 1440, [(ph_plant, CYAN, "#9A9A9A"), (ph_pond, RED, "black")])

# axis titles
serif = ["Liberation Serif", "Noto Sans CJK JP"]
for y_unit, y_name, y_rain in [(20, 67, 65), (834, 866, 861)]:
    fig.text(fx(16), fy(y_unit), "（m3/day）", color=FLOW_C, fontsize=18, family=serif,
             ha="left", va="center")
    fig.text(fx(135), fy(y_name), "処理水量", color=FLOW_C, fontsize=19, ha="right", va="center")
    fig.text(fx(156), fy(y_name), "pH", color=RED, fontsize=19, ha="left", va="center")
    fig.text(fx(2577), fy(y_rain), "日降水量", color="black", fontsize=19, ha="left", va="center")
    fig.text(fx(2690), fy(y_rain), "（mm）", color="black", fontsize=18, family=serif,
             ha="left", va="center")

# legends
rain_h = Patch(facecolor=RAIN_C, edgecolor="none")
flow_h = Line2D([], [], color=FLOW_C, lw=2.5)
red_h = Line2D([], [], ls="none", marker="o", ms=11, mfc=RED, mec="black", mew=1.5)
cyan_h = Line2D([], [], ls="none", marker="o", ms=11, mfc=CYAN, mec="#9A9A9A", mew=1.5)
leg_kw = dict(loc="center", fontsize=17, frameon=True, fancybox=False, edgecolor="black",
              framealpha=1, handlelength=2.4, handletextpad=0.3, borderpad=0.35)
lg1 = fig.legend([rain_h, red_h, flow_h], ["日降水量(mm)", "プラント原水pH(ラボ)", "処理水量(m3/day)"],
                 ncol=3, columnspacing=3.2, bbox_to_anchor=(fx(1527), fy(93)), **leg_kw)
lg1.get_frame().set_linewidth(1.2)
lg2 = fig.legend([rain_h, red_h, cyan_h, flow_h],
                 ["日降水量(mm)", "調整池放流pH(ラボ)", "プラント処理水pH(ラボ)", "処理水量(m3/day)"],
                 ncol=4, columnspacing=1.5, bbox_to_anchor=(fx(1395), fy(883)), **leg_kw)
lg2.get_frame().set_linewidth(1.2)

# event markers
to_fig = fig.transFigure.inverted()


def event(x_data, y_arrow, text, text_xy):
    xf = to_fig.transform(ax_top.transData.transform((x_data, 0)))[0]
    fig.add_artist(Line2D([xf, xf], [fy(y_arrow), fy(1445)], transform=fig.transFigure,
                          color="black", lw=1.4, zorder=20))
    fig.add_artist(FancyArrowPatch((xf, fy(y_arrow)), (xf + fx(55), fy(y_arrow)),
                                   transform=fig.transFigure, arrowstyle="-|>",
                                   mutation_scale=26, lw=1.6, color="black", zorder=20))
    fig.text(text_xy[0], text_xy[1], text, fontsize=19, ha="left", va="center")


event(COVER_X, 70, "覆土後", (fx(692), fy(66)))
event(PLANT_X, 66, "新プラント稼働", (fx(2046), fy(44)))

fig.savefig("out.png", dpi=DPI)
